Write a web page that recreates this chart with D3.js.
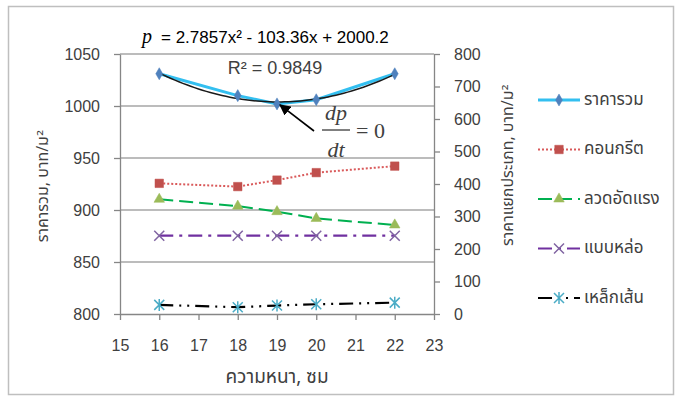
<!DOCTYPE html>
<html>
<head>
<meta charset="utf-8">
<script src="https://cdn.jsdelivr.net/npm/d3@7"></script>
<style>
  body { margin: 0; background: #fff; }
  text { font-family: "Liberation Sans", Arial, sans-serif; fill: #404040; }
  .thai { font-family: "Noto Sans Thai", Tahoma, "DejaVu Sans", sans-serif; }
</style>
</head>
<body>
<div id="chart-container"></div>
<script>
const width = 675;
const height = 396;
const margin = { top: 54, right: 241, bottom: 82, left: 120 };

const thickness = [16, 18, 19, 20, 22];
const totalCost = [1031, 1010, 1002, 1006, 1031]; // left axis
const concrete = [402, 392, 412, 435, 455]; // right axis
const strand = [353, 332, 315, 294, 274];
const formwork = [241, 241, 241, 241, 241];
const rebar = [28, 21, 26, 30, 35];

const xTicks = [15, 16, 17, 18, 19, 20, 21, 22, 23];
const yLeftTicks = [800, 850, 900, 950, 1000, 1050];
const yRightTicks = [0, 100, 200, 300, 400, 500, 600, 700, 800];

const series = [
  { name: "ราคารวม", values: totalCost, axis: "left", line: "#33bff0", width: 3, dash: null, marker: "diamond", mColor: "#4f81bd" },
  { name: "คอนกรีต", values: concrete, axis: "right", line: "#d9595a", width: 2, dash: "2,2", marker: "square", mColor: "#c0504d" },
  { name: "ลวดอัดแรง", values: strand, axis: "right", line: "#00b050", width: 2, dash: "14,6", marker: "triangle", mColor: "#9bbb59" },
  { name: "แบบหล่อ", values: formwork, axis: "right", line: "#7030a0", width: 2.2, dash: "14,6,3,6", marker: "x", mColor: "#8064a2" },
  { name: "เหล็กเส้น", values: rebar, axis: "right", line: "#000", width: 2.2, dash: "14,6,2,6,2,6", marker: "star", mColor: "#4bacc6" },
];

const svg = d3.select("#chart-container")
  .append("svg")
  .attr("width", width)
  .attr("height", height);

// outer frame
svg.append("rect")
  .attr("x", 8.5).attr("y", 6.5)
  .attr("width", 665).attr("height", 388)
  .attr("fill", "#fff")
  .attr("stroke", "#bfbfbf")
  .attr("stroke-width", 1.5);

const x = d3.scaleLinear().domain([15, 23]).range([margin.left, width - margin.right]);
const yL = d3.scaleLinear().domain([800, 1050]).range([height - margin.bottom, margin.top]);
const yR = d3.scaleLinear().domain([0, 800]).range([height - margin.bottom, margin.top]);

// gridlines
svg.append("g")
  .selectAll("line")
  .data(yLeftTicks.slice(1))
  .join("line")
  .attr("x1", x(15)).attr("x2", x(23))
  .attr("y1", (d) => yL(d)).attr("y2", (d) => yL(d))
  .attr("stroke", "#a6a6a6")
  .attr("stroke-width", 1.3);

const styleAxis = (g) => {
  g.select(".domain").attr("stroke", "#868686").attr("stroke-width", 1.3);
  g.selectAll(".tick line").attr("stroke", "#868686").attr("stroke-width", 1.3);
  g.selectAll(".tick text")
    .attr("fill", "#404040")
    .style("font-size", "16px")
    .style("font-family", "'Liberation Sans', Arial, sans-serif");
};

svg.append("g")
  .attr("transform", `translate(0,${height - margin.bottom})`)
  .call(d3.axisBottom(x).tickValues(xTicks).tickSize(6).tickSizeOuter(0).tickPadding(20).tickFormat(d3.format("d")))
  .call(styleAxis);

svg.append("g")
  .attr("transform", `translate(${margin.left},0)`)
  .call(d3.axisLeft(yL).tickValues(yLeftTicks).tickSize(6).tickSizeOuter(0).tickPadding(14).tickFormat(d3.format("d")))
  .call(styleAxis);

svg.append("g")
  .attr("transform", `translate(${width - margin.right},0)`)
  .call(d3.axisRight(yR).tickValues(yRightTicks).tickSize(6).tickSizeOuter(0).tickPadding(14).tickFormat(d3.format("d")))
  .call(styleAxis);

// axis titles
svg.append("text")
  .attr("class", "thai")
  .attr("transform", `translate(44,186) rotate(-90)`)
  .attr("text-anchor", "middle")
  .attr("dominant-baseline", "middle")
  .style("font-size", "16px")
  .text("ราคารวม, บาท/ม²");

svg.append("text")
  .attr("class", "thai")
  .attr("transform", `translate(509,165) rotate(-90)`)
  .attr("text-anchor", "middle")
  .attr("dominant-baseline", "middle")
  .style("font-size", "16px")
  .text("ราคาแยกประเภท, บาท/ม²");

svg.append("text")
  .attr("class", "thai")
  .attr("x", 277).attr("y", 378)
  .attr("text-anchor", "middle")
  .attr("dominant-baseline", "middle")
  .style("font-size", "19px")
  .text("ความหนา, ซม");

// marker shapes
const markerPath = (type) => {
  const sym = {
    diamond: d3.symbol(d3.symbolDiamond, 42),
    square: d3.symbol(d3.symbolSquare, 72),
    triangle: d3.symbol(d3.symbolTriangle, 48),
  };
  if (sym[type]) return sym[type]();
  if (type === "x") return "M-5,-5L5,5M-5,5L5,-5";
  return "M-5,-5L5,5M-5,5L5,-5M0,-6L0,6"; // star
};

const lineGroup = svg.append("g");

series.forEach((s) => {
  const yScale = s.axis === "left" ? yL : yR;
  const pts = thickness.map((t, i) => [x(t), yScale(s.values[i])]);
  lineGroup.append("path")
    .attr("d", d3.line()(pts))
    .attr("fill", "none")
    .attr("stroke", s.line)
    .attr("stroke-width", s.width)
    .attr("stroke-dasharray", s.dash);
  s.pts = pts;
});

// quadratic trendline for total cost (least squares fit of the data)
const fitQuad = (xs, ys) => {
  const n = xs.length;
  const S = (f) => d3.sum(xs.map((xi, i) => f(xi, ys[i])));
  const sx = S((a) => a), sx2 = S((a) => a * a), sx3 = S((a) => a ** 3), sx4 = S((a) => a ** 4);
  const sy = S((a, b) => b), sxy = S((a, b) => a * b), sx2y = S((a, b) => a * a * b);
  const M = [[sx4, sx3, sx2, sx2y], [sx3, sx2, sx, sxy], [sx2, sx, n, sy]];
  for (let c = 0; c < 3; c++) {
    for (let r = c + 1; r < 3; r++) {
      const f = M[r][c] / M[c][c];
      for (let k = c; k < 4; k++) M[r][k] -= f * M[c][k];
    }
  }
  const coef = [0, 0, 0];
  for (let r = 2; r >= 0; r--) {
    let v = M[r][3];
    for (let k = r + 1; k < 3; k++) v -= M[r][k] * coef[k];
    coef[r] = v / M[r][r];
  }
  return (t) => coef[0] * t * t + coef[1] * t + coef[2];
};
const trend = fitQuad(thickness, totalCost);
const trendX = d3.range(16, 22.01, 0.1);
lineGroup.append("path")
  .attr("d", d3.line()(trendX.map((t) => [x(t), yL(trend(t))])))
  .attr("fill", "none")
  .attr("stroke", "#1a1a1a")
  .attr("stroke-width", 1.5);

// markers
series.forEach((s) => {
  const isLine = s.marker === "x" || s.marker === "star";
  svg.append("g")
    .selectAll("path")
    .data(s.pts)
    .join("path")
    .attr("transform", (d) => `translate(${d[0]},${d[1]})`)
    .attr("d", markerPath(s.marker))
    .attr("fill", isLine ? "none" : s.mColor)
    .attr("stroke", s.mColor)
    .attr("stroke-width", isLine ? 1.5 : 0.5);
});

// equation annotation
const eq = svg.append("text").attr("x", 142).attr("y", 43).style("font-size", "17px");
eq.append("tspan")
  .style("font-family", "'Liberation Serif', 'Times New Roman', serif")
  .style("font-style", "italic")
  .style("font-size", "20px")
  .attr("fill", "#000")
  .text("p");
eq.append("tspan").attr("dx", 9).attr("fill", "#000").text("= 2.7857x² - 103.36x + 2000.2");

svg.append("text")
  .attr("x", 275).attr("y", 74)
  .attr("text-anchor", "middle")
  .attr("fill", "#000")
  .style("font-size", "18px")
  .text("R² = 0.9849");

// arrow to minimum
svg.append("defs").append("marker")
  .attr("id", "arrowhead")
  .attr("viewBox", "0 0 10 10")
  .attr("refX", 9).attr("refY", 5)
  .attr("markerWidth", 7).attr("markerHeight", 7)
  .attr("orient", "auto")
  .append("path")
  .attr("d", "M0,0L10,5L0,10z")
  .attr("fill", "#000");

svg.append("line")
  .attr("x1", 314).attr("y1", 131)
  .attr("x2", x(19) + 3).attr("y2", yL(1002) + 1)
  .attr("stroke", "#000")
  .attr("stroke-width", 1.6)
  .attr("marker-end", "url(#arrowhead)");

const serif = "'Liberation Serif', 'Times New Roman', serif";
svg.append("text").attr("x", 336).attr("y", 120).attr("text-anchor", "middle")
  .style("font-family", serif).style("font-style", "italic").style("font-size", "22px").attr("fill", "#000").text("dp");
svg.append("line").attr("x1", 322).attr("x2", 350).attr("y1", 130).attr("y2", 130).attr("stroke", "#000").attr("stroke-width", 1);
svg.append("text").attr("x", 336).attr("y", 157).attr("text-anchor", "middle")
  .style("font-family", serif).style("font-style", "italic").style("font-size", "22px").attr("fill", "#000").text("dt");
svg.append("text").attr("x", 356).attr("y", 138)
  .style("font-family", serif).style("font-size", "22px").attr("fill", "#000").text("= 0");

// legend
const legend = svg.append("g").attr("transform", "translate(538,100)");
series.forEach((s, i) => {
  const g = legend.append("g").attr("transform", `translate(0,${i * 49.5})`);
  g.append("line")
    .attr("x1", 0).attr("x2", 42)
    .attr("stroke", s.line)
    .attr("stroke-width", s.width)
    .attr("stroke-dasharray", s.dash);
  const isLine = s.marker === "x" || s.marker === "star";
  g.append("path")
    .attr("transform", "translate(21,0)")
    .attr("d", markerPath(s.marker))
    .attr("fill", isLine ? "none" : s.mColor)
    .attr("stroke", s.mColor)
    .attr("stroke-width", isLine ? 1.5 : 0.5);
  g.append("text")
    .attr("class", "thai")
    .attr("x", 46).attr("y", 0)
    .attr("dominant-baseline", "middle")
    .style("font-size", "17px")
    .text(s.name);
});
</script>
</body>
</html>
